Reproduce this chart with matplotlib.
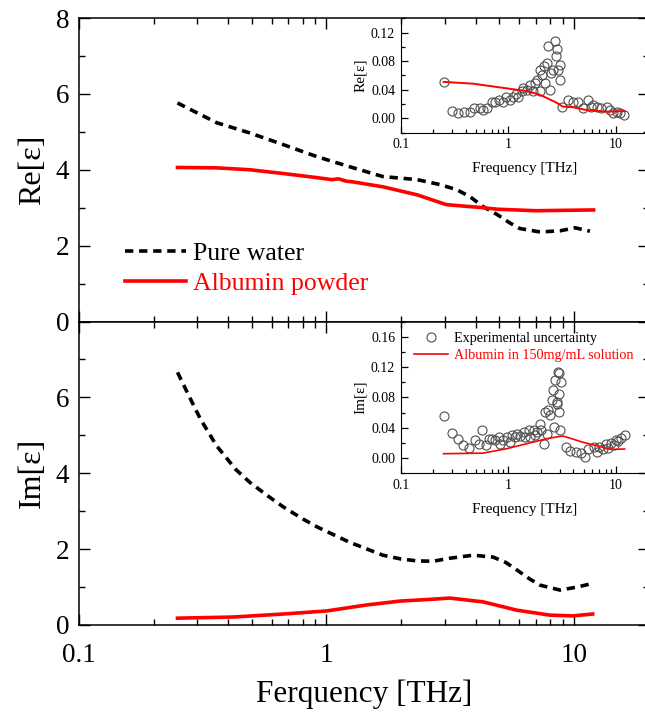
import matplotlib
matplotlib.use("Agg")
import matplotlib.pyplot as plt
from matplotlib.ticker import MultipleLocator, LogLocator, NullFormatter, FormatStrFormatter

plt.rcParams['font.family'] = ['Liberation Serif', 'DejaVu Serif']

# main panels: real part
re_water_f = [0.25, 0.36, 0.49, 0.67, 0.92, 1.24, 1.69, 2.32, 2.87, 3.37, 3.8, 4.29, 4.89, 5.5, 6.05, 7.29, 8.78, 10.1, 11.6]
re_water_v = [5.76, 5.24, 4.97, 4.66, 4.34, 4.08, 3.82, 3.74, 3.61, 3.47, 3.29, 3.03, 2.82, 2.6, 2.45, 2.36, 2.39, 2.47, 2.38]
re_alb_f = [0.25, 0.36, 0.49, 0.67, 0.92, 1.05, 1.12, 1.2, 1.28, 1.69, 2.32, 3.05, 4.29, 4.89, 7.0, 9.0, 12.0]
re_alb_v = [4.06, 4.05, 4.00, 3.90, 3.79, 3.74, 3.76, 3.70, 3.68, 3.55, 3.34, 3.08, 3.00, 2.96, 2.92, 2.93, 2.94]

# main panels: imaginary part
im_water_f = [0.25, 0.28, 0.31, 0.36, 0.43, 0.49, 0.58, 0.67, 0.8, 0.92, 1.24, 1.69, 2.0, 2.32, 2.69, 3.15,
              3.91, 4.71, 5.3, 5.88, 6.6, 7.29, 8.78, 10.3, 11.6]
im_water_v = [6.66, 6.0, 5.42, 4.72, 4.1, 3.76, 3.4, 3.11, 2.8, 2.58, 2.18, 1.84, 1.74, 1.69, 1.68, 1.76,
              1.84, 1.79, 1.65, 1.45, 1.22, 1.05, 0.92, 1.00, 1.08]
im_alb_f = [0.25, 0.42, 0.67, 1.0, 1.46, 1.98, 2.69, 3.15, 4.29, 5.88, 8.0, 9.9, 11.9]
im_alb_v = [0.18, 0.21, 0.29, 0.37, 0.53, 0.63, 0.68, 0.71, 0.61, 0.39, 0.26, 0.24, 0.29]

# inset: real part, experimental uncertainty and solution
ins_re_f = [0.25, 0.30, 0.34, 0.39, 0.44, 0.48, 0.55, 0.58, 0.63, 0.70, 0.75, 0.82, 0.90, 0.96, 1.03,
            1.11, 1.17, 1.23, 1.33, 1.37, 1.48, 1.59, 1.68, 1.76, 1.83, 1.96, 1.96, 2.03, 2.15, 2.17,
            2.27, 2.34, 2.43, 2.5, 2.6, 2.7, 2.77, 2.85, 2.9, 3.02, 3.02, 3.18, 3.6, 3.99, 4.45, 4.9,
            5.5, 5.9, 6.1, 6.6, 7.3, 8.2, 8.8, 9.4, 10.1, 10.8, 11.9]
ins_re_v = [0.051, 0.0107, 0.007, 0.0093, 0.0093, 0.015, 0.014, 0.0117, 0.014, 0.0235, 0.0235, 0.026,
            0.0235, 0.0305, 0.026, 0.0305, 0.034, 0.0305, 0.0376, 0.042, 0.040, 0.047, 0.0376, 0.0495,
            0.054, 0.0376, 0.068, 0.061, 0.073, 0.0495, 0.078, 0.101, 0.040, 0.0636, 0.068, 0.108,
            0.087, 0.0965, 0.068, 0.075, 0.054, 0.0155, 0.026, 0.0235, 0.0235, 0.014, 0.026, 0.0164,
            0.019, 0.0164, 0.014, 0.0164, 0.0117, 0.007, 0.0093, 0.007, 0.0047]
ins_re_line_f = [0.25, 0.47, 0.96, 1.5, 1.96, 2.8, 3.2, 4.0, 5.3, 8.2, 12.0]
ins_re_line_v = [0.051, 0.0485, 0.042, 0.038, 0.033, 0.022, 0.0165, 0.0155, 0.0117, 0.0093, 0.0103]

# inset: imaginary part
ins_im_f = [0.25, 0.30, 0.34, 0.38, 0.43, 0.49, 0.53, 0.57, 0.62, 0.66, 0.71, 0.75, 0.81, 0.84, 0.90,
            0.97, 1.04, 1.08, 1.16, 1.20, 1.29, 1.39, 1.44, 1.54, 1.6, 1.72, 1.77, 1.84, 1.95, 2.0,
            2.15, 2.2, 2.3, 2.35, 2.44, 2.53, 2.59, 2.63, 2.73, 2.8, 2.83, 2.86, 2.93, 2.93, 2.97,
            2.99, 3.08, 3.4, 3.75, 4.2, 4.7, 5.2, 5.5, 6.2, 6.6, 7.0, 7.5, 8.0, 8.5, 9.0, 9.5,
            10.0, 10.5, 11.0, 12.0]
ins_im_v = [0.0555, 0.033, 0.0256, 0.0168, 0.0137, 0.0234, 0.019, 0.0375, 0.0168, 0.0256, 0.0256,
            0.0234, 0.0278, 0.019, 0.0234, 0.0278, 0.0212, 0.031, 0.0278, 0.032, 0.0287, 0.0344,
            0.0278, 0.0366, 0.0278, 0.0375, 0.030, 0.0344, 0.0455, 0.0366, 0.019, 0.0608, 0.032,
            0.063, 0.0565, 0.0763, 0.0895, 0.041, 0.1027, 0.074, 0.072, 0.1137, 0.085, 0.061, 0.112,
            0.0366, 0.100, 0.0146, 0.010, 0.008, 0.0066, 0.002, 0.0124, 0.0146, 0.008, 0.015, 0.012,
            0.018, 0.014, 0.020, 0.017, 0.024, 0.022, 0.027, 0.030]
ins_im_line_f = [0.25, 0.58, 0.96, 1.48, 2.27, 3.1, 3.3, 4.9, 6.8, 9.0, 12.0]
ins_im_line_v = [0.0058, 0.0066, 0.0124, 0.019, 0.0256, 0.029, 0.0287, 0.021, 0.0159, 0.0115, 0.012]

W, H = 645, 717
fig = plt.figure(figsize=(W / 100, H / 100), dpi=100)

def fx(px):
    return px / W

def fy(py):
    return 1 - py / H

x0, x1 = 79, 648.5
ax_re = fig.add_axes([fx(x0), fy(321.5), fx(x1 - x0), (321.5 - 18) / H])
ax_im = fig.add_axes([fx(x0), fy(625), fx(x1 - x0), (625 - 321.5) / H])

dash = (0, (2.3, 1.6))
for ax in (ax_re, ax_im):
    ax.set_xscale('log')
    ax.set_xlim(0.1, 20)
    ax.set_ylim(0, 8)
    ax.yaxis.set_major_locator(MultipleLocator(2))
    ax.yaxis.set_minor_locator(MultipleLocator(1))
    ax.xaxis.set_major_locator(LogLocator(base=10, numticks=10))
    ax.xaxis.set_minor_locator(LogLocator(base=10, subs=range(2, 10), numticks=20))
    ax.xaxis.set_minor_formatter(NullFormatter())
    ax.tick_params(which='both', direction='in', top=True, right=True, labelsize=19.5, width=1, pad=7)
    ax.tick_params(which='major', length=8)
    ax.tick_params(which='minor', length=4.5)
    for s in ax.spines.values():
        s.set_linewidth(1.1)

ax_re.plot(re_water_f, re_water_v, color='black', lw=2.6, ls=dash, label='Pure water')
ax_re.plot(re_alb_f, re_alb_v, color='#ff0000', lw=2.6, label='Albumin powder')
ax_re.tick_params(labelbottom=False)
ax_re.set_ylabel('Re[ε]', fontsize=23, labelpad=6)
leg = ax_re.legend(loc='center left', bbox_to_anchor=(0.081, 0.174), frameon=False, fontsize=18.5,
                   handlelength=2.35, handletextpad=0.3, labelspacing=0.25, borderpad=0, borderaxespad=0)
for t, c in zip(leg.get_texts(), ['black', '#ff0000']):
    t.set_color(c)

ax_im.plot(im_water_f, im_water_v, color='black', lw=2.6, ls=dash)
ax_im.plot(im_alb_f, im_alb_v, color='#ff0000', lw=2.6)
ax_im.set_yticks([0, 2, 4, 6, 8])
ax_im.set_yticklabels(['0', '2', '4', '6', ''])
ax_im.xaxis.set_major_formatter(FormatStrFormatter('%g'))
ax_im.tick_params(axis='x', which='both', pad=13)
ax_im.set_ylabel('Im[ε]', fontsize=23, labelpad=6)
ax_im.set_xlabel('Ferquency [THz]', fontsize=22.5, labelpad=8)

# insets
in1 = fig.add_axes([fx(400.7), fy(132.7), fx(x1 - 400.7), (132.7 - 18.2) / H])
in2 = fig.add_axes([fx(400.7), fy(473.3), fx(x1 - 400.7), (473.3 - 321.6) / H])

for ax in (in1, in2):
    ax.set_xscale('log')
    ax.set_xlim(0.1, 20)
    ax.patch.set_alpha(0)
    ax.spines['top'].set_visible(False)
    ax.spines['right'].set_visible(False)
    ax.xaxis.set_major_locator(LogLocator(base=10, numticks=10))
    ax.xaxis.set_minor_locator(LogLocator(base=10, subs=range(2, 10), numticks=20))
    ax.xaxis.set_minor_formatter(NullFormatter())
    ax.xaxis.set_major_formatter(FormatStrFormatter('%g'))
    ax.yaxis.set_major_locator(MultipleLocator(0.04))
    ax.yaxis.set_minor_locator(MultipleLocator(0.02))
    ax.yaxis.set_major_formatter(FormatStrFormatter('%.2f'))
    ax.tick_params(which='both', direction='in', labelsize=10, width=0.9, pad=4)
    ax.tick_params(which='major', length=5)
    ax.tick_params(which='minor', length=3)
    ax.set_xlabel('Frequency [THz]', fontsize=11, labelpad=8)

in1.set_ylim(-0.02, 0.14)
in1.plot(ins_re_f, ins_re_v, 'o', mfc='none', mec='#505050', mew=0.8, ms=6.5)
in1.plot(ins_re_line_f, ins_re_line_v, color='#ff0000', lw=1.4)
in1.set_ylabel('Re[ε]', fontsize=11, labelpad=3)

in2.set_ylim(-0.02, 0.18)
in2.plot(ins_im_f, ins_im_v, 'o', mfc='none', mec='#505050', mew=0.8, ms=6.5,
         label='Experimental uncertainty')
in2.plot(ins_im_line_f, ins_im_line_v, color='#ff0000', lw=1.2, label='Albumin in 150mg/mL solution')
in2.set_ylabel('Im[ε]', fontsize=11, labelpad=3)
leg2 = in2.legend(loc='center left', bbox_to_anchor=(0.054, 0.833), frameon=False, fontsize=10.2,
                  handlelength=2.4, handletextpad=0.4, labelspacing=0.25, borderpad=0,
                  borderaxespad=0, numpoints=1)
for t, c in zip(leg2.get_texts(), ['black', '#ff0000']):
    t.set_color(c)

fig.savefig('out.png', dpi=100)
